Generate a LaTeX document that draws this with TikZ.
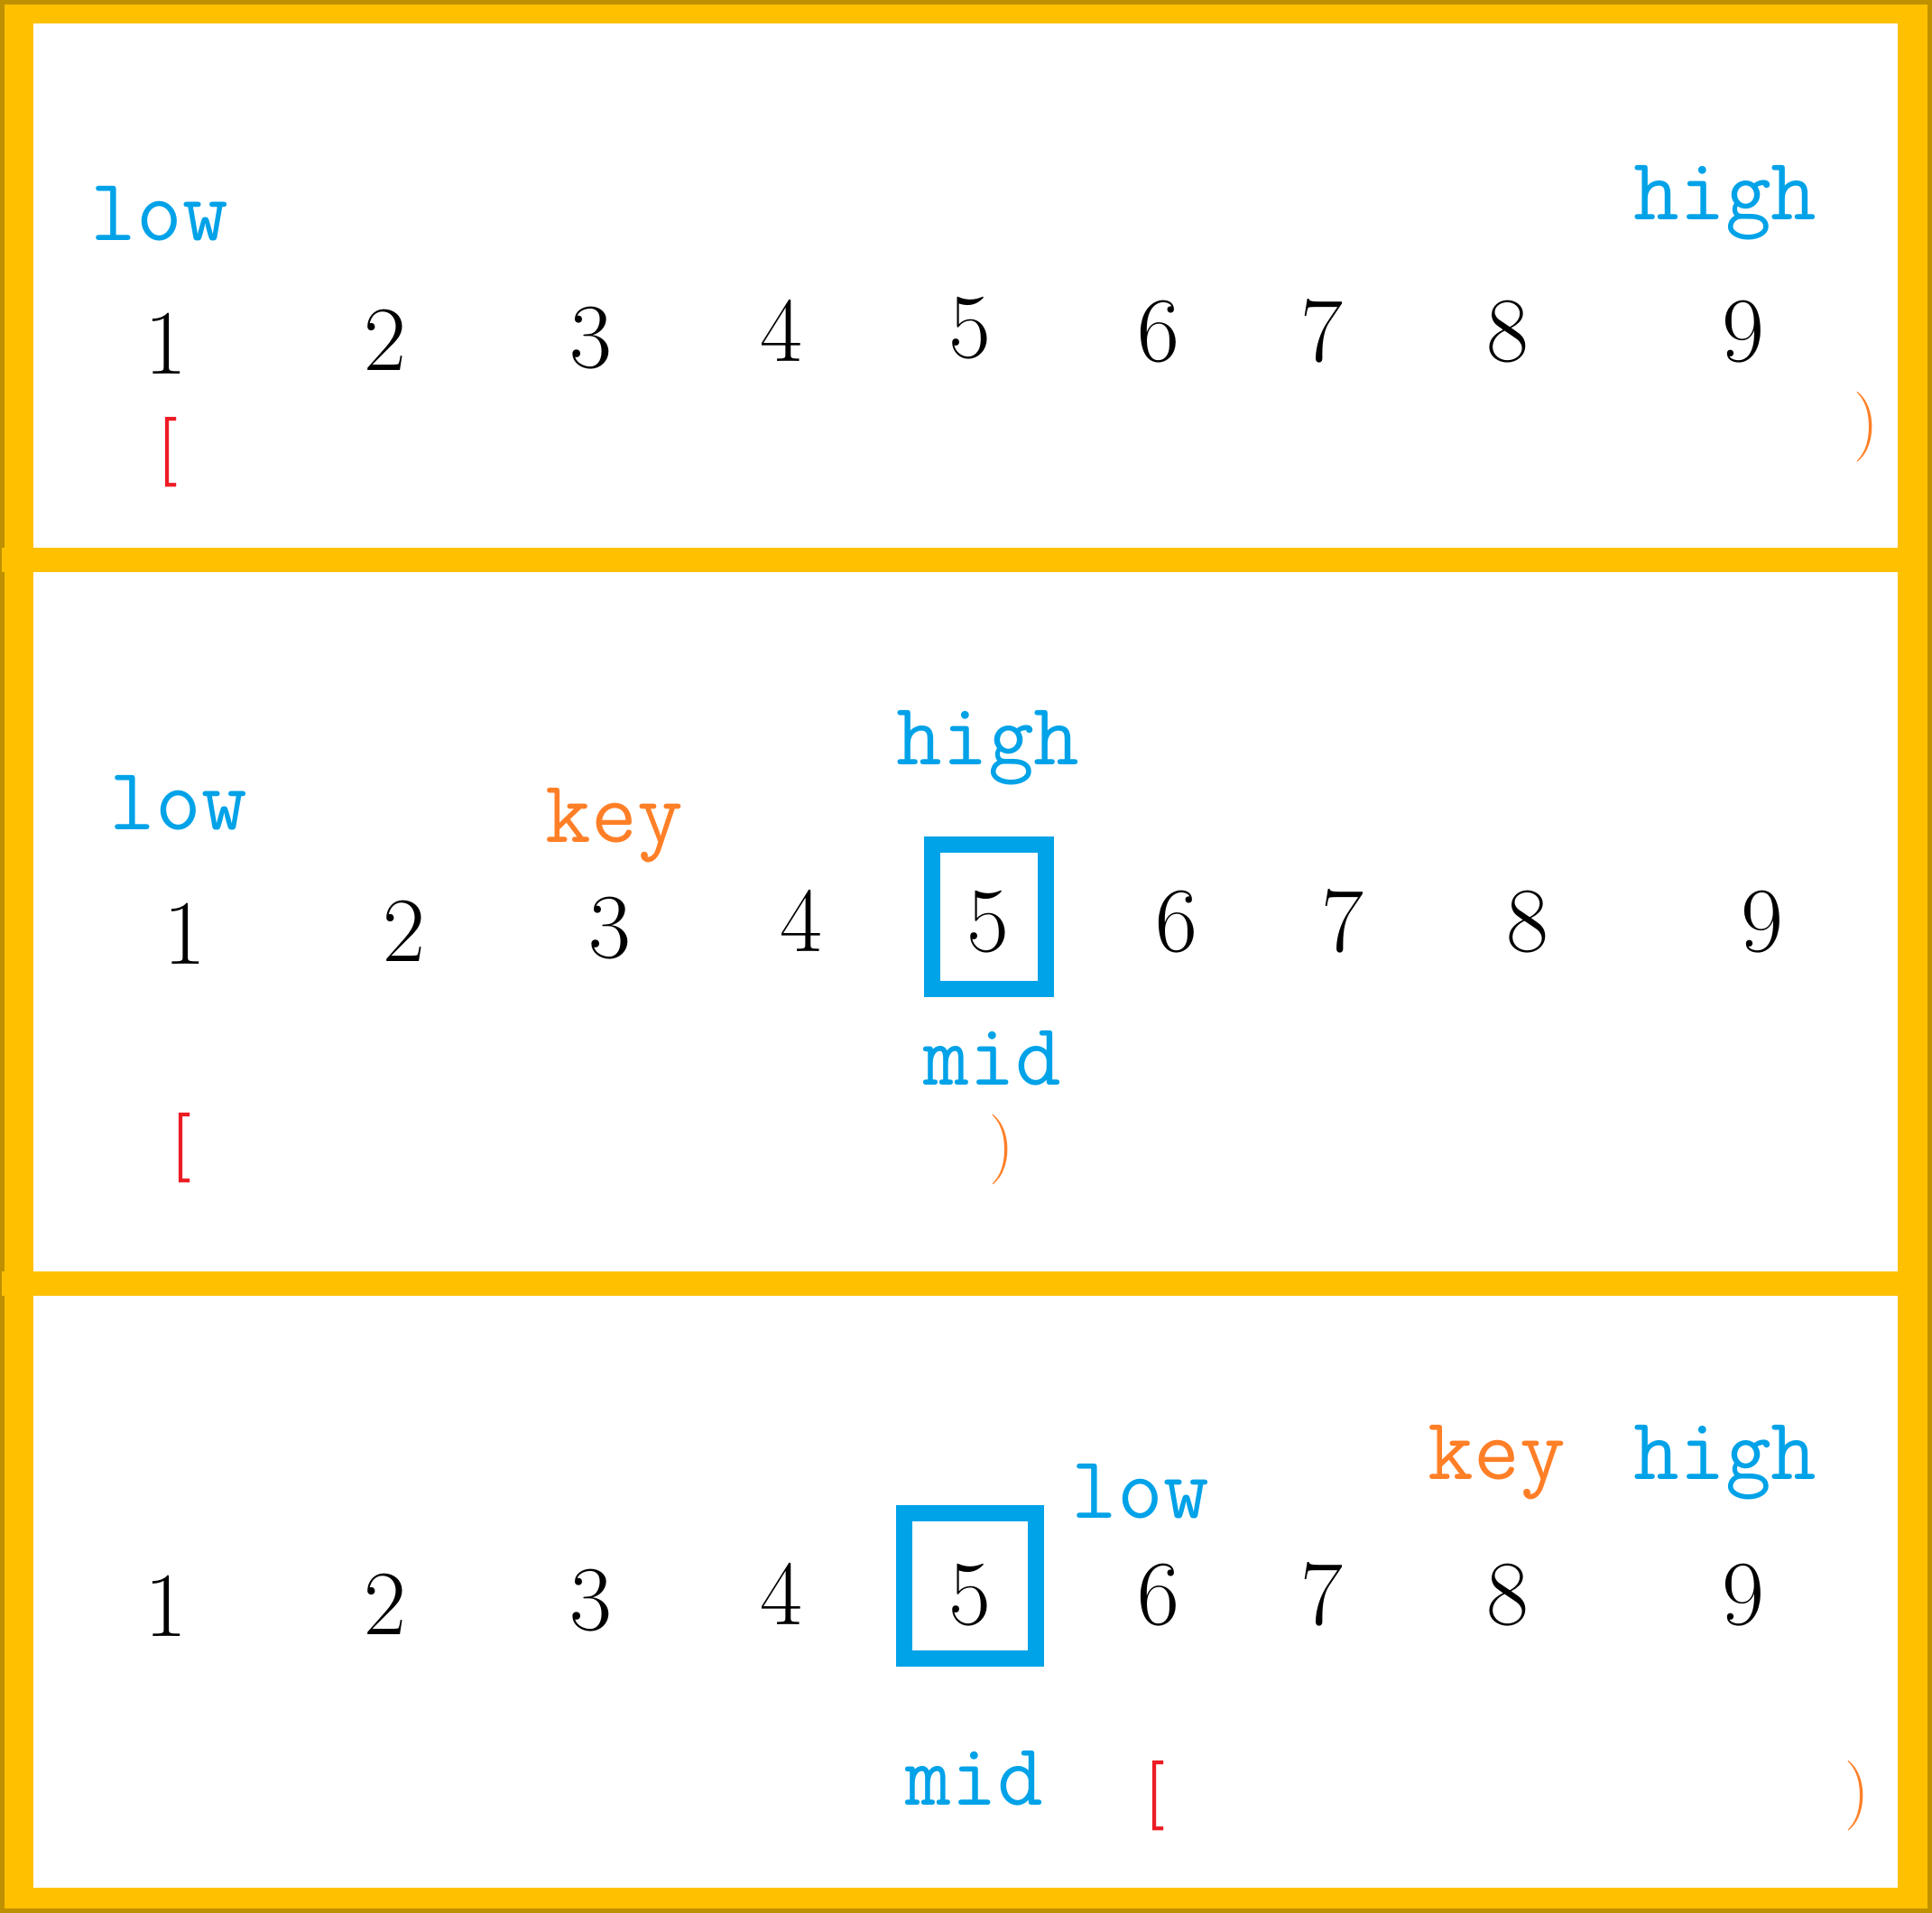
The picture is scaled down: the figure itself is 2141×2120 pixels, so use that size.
\documentclass[tikz,border=0pt]{standalone}
\usepackage{tikz}
\usetikzlibrary{positioning}
\usepackage{xcolor}
\definecolor{gold}{HTML}{FFC000}
\definecolor{goldedge}{HTML}{BF9000}
\definecolor{ptrblue}{HTML}{00A2E8}
\definecolor{keyorange}{HTML}{FF7F27}
\definecolor{openred}{HTML}{ED1C24}

\begin{document}
\begin{tikzpicture}[x=0.01cm,y=-0.01cm,
  num/.style={anchor=base,inner sep=0pt,font=\fontsize{29}{29}\selectfont},
  ptr/.style={anchor=base,inner sep=0pt,text=ptrblue,font=\fontsize{28}{28}\selectfont\ttfamily},
  keylbl/.style={ptr,text=keyorange},
  lbrk/.style={anchor=base,inner sep=0pt,text=openred,font=\fontsize{22}{22}\selectfont\bfseries},
  rbrk/.style={anchor=base,inner sep=0pt,text=keyorange,font=\fontsize{22}{22}\selectfont},
  midbox/.style={draw=ptrblue,line width=0.18cm}]
  \useasboundingbox (0,0) rectangle (2141,2120);

  % Frame and panels
  \fill[goldedge] (0,0) rectangle (2141,2120);
  \fill[gold] (5,5) rectangle (2136,2115);
  \fill[gold] (2,607) rectangle (37,634);
  \fill[gold] (2,1409) rectangle (37,1436);
  \fill[white] (37,26) rectangle (2103,607);
  \fill[white] (37,634) rectangle (2103,1409);
  \fill[white] (37,1436) rectangle (2103,2092);

  % Panel 1: whole range
  \node[ptr] (low1) at (177,266) {low};
  \node[ptr] (high1) at (1912,243) {high};
  \foreach \x/\y [count=\i] in {184/414,427/410,655/407,866/400,1075/396,1284/400,1465/400,1671/400,1932/400}
    \node[num] (a\i) at (\x,\y) {\i};
  \node[lbrk] (open1) at (186,520) {[};
  \node[rbrk] (close1) at (2068,492) {)};

  % Panel 2: key left of mid
  \node[ptr] (low2) at (198,919) {low};
  \node[keylbl] (key2) at (681,933) {key};
  \node[ptr] (high2) at (1095,847) {high};
  \foreach \x/\y [count=\i] in {205/1068,448/1065,676/1061,888/1054,1095/1054,1304/1054,1488/1054,1693/1054,1953/1054}
    \node[num] (b\i) at (\x,\y) {\i};
  \draw[midbox] (1033,936) rectangle (1159,1096);
  \node[ptr] (mid2) at (1100,1202) {mid};
  \node[lbrk] (open2) at (201,1291) {[};
  \node[rbrk] (close2) at (1110,1293) {)};

  % Panel 3: key right of mid
  \node[ptr] (low3) at (1264,1682) {low};
  \node[keylbl] (key3) at (1659,1639) {key};
  \node[ptr] (high3) at (1912,1639) {high};
  \foreach \x/\y [count=\i] in {184/1813,427/1811,655/1806,866/1800,1075/1800,1284/1800,1465/1800,1671/1800,1932/1800}
    \node[num] (c\i) at (\x,\y) {\i};
  \draw[midbox] (1002,1677) rectangle (1148,1838);
  \node[ptr] (mid3) at (1080,2000) {mid};
  \node[lbrk] (open3) at (1280,2009) {[};
  \node[rbrk] (close3) at (2058,2009) {)};
\end{tikzpicture}
\end{document}
